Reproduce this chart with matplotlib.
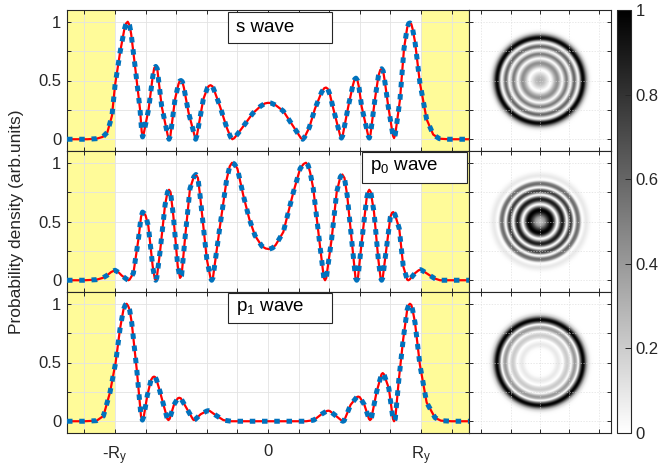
import numpy as np
import matplotlib
matplotlib.use("Agg")
import matplotlib.pyplot as plt
from matplotlib.patches import Rectangle

plt.rcParams['font.family'] = ['Liberation Sans', 'DejaVu Sans']
plt.rcParams['mathtext.fontset'] = 'custom'
plt.rcParams['mathtext.rm'] = 'Liberation Sans'
plt.rcParams['mathtext.it'] = 'Liberation Sans:italic'

# ---------------- data (x in units of R_y) ----------------
s_x = [-1.314, -1.25, -1.18, -1.12, -1.08, -1.05, -1.02, -1.00, -0.967, -0.94, -0.928, -0.917, -0.905,
       -0.895, -0.87, -0.837, -0.826, -0.82, -0.812, -0.78, -0.755, -0.744, -0.734, -0.724, -0.715,
       -0.695, -0.655, -0.647, -0.638, -0.608, -0.585, -0.577, -0.569, -0.56, -0.55, -0.52, -0.48,
       -0.473, -0.465, -0.423, -0.395, -0.385, -0.375, -0.363, -0.35, -0.314, -0.27, -0.245, -0.233,
       -0.22, -0.19, -0.15, -0.10, -0.05, -0.02, 0.0, 0.02, 0.05, 0.10, 0.15, 0.19, 0.215, 0.227,
       0.24, 0.27, 0.307, 0.35, 0.368, 0.379, 0.39, 0.405, 0.427, 0.472, 0.48, 0.488, 0.525, 0.555,
       0.566, 0.575, 0.585, 0.595, 0.612, 0.655, 0.662, 0.67, 0.699, 0.722, 0.734, 0.743, 0.753,
       0.765, 0.786, 0.817, 0.824, 0.832, 0.863, 0.889, 0.91, 0.92, 0.928, 0.937, 0.945, 0.961,
       0.993, 1.037, 1.08, 1.12, 1.18, 1.25, 1.314]
s_y = [0, 0, 0, 0.005, 0.02, 0.06, 0.2, 0.46, 0.74, 0.93, 0.985, 1.0, 0.97,
       0.90, 0.63, 0.26, 0.07, 0.02, 0.05, 0.26, 0.52, 0.605, 0.62, 0.60, 0.50,
       0.28, 0.03, 0.0, 0.03, 0.34, 0.47, 0.495, 0.50, 0.49, 0.44, 0.23, 0.03,
       0.0, 0.03, 0.34, 0.44, 0.455, 0.46, 0.45, 0.41, 0.28, 0.10, 0.02, 0.0,
       0.01, 0.06, 0.13, 0.22, 0.28, 0.305, 0.31, 0.308, 0.29, 0.24, 0.14, 0.06, 0.01, 0.0,
       0.02, 0.10, 0.26, 0.40, 0.435, 0.44, 0.43, 0.38, 0.26, 0.03, 0.01, 0.03, 0.28, 0.46,
       0.51, 0.52, 0.50, 0.44, 0.28, 0.03, 0.01, 0.04, 0.34, 0.54, 0.59, 0.60, 0.58,
       0.48, 0.28, 0.03, 0.01, 0.04, 0.34, 0.77, 0.95, 0.985, 0.99, 0.98, 0.94, 0.83,
       0.48, 0.17, 0.04, 0.005, 0, 0, 0]

p0_x = [-1.314, -1.2, -1.12, -1.08, -1.054, -1.025, -1.0, -0.975, -0.956, -0.92, -0.913, -0.905,
        -0.88, -0.847, -0.83, -0.82, -0.81, -0.80, -0.782, -0.754, -0.741, -0.734, -0.727, -0.706,
        -0.673, -0.657, -0.647, -0.637, -0.619, -0.59, -0.575, -0.565, -0.543, -0.51, -0.485,
        -0.471, -0.458, -0.444, -0.40, -0.376, -0.368, -0.36, -0.314, -0.27, -0.25, -0.235, -0.22,
        -0.20, -0.161, -0.122, -0.085, -0.04, -0.015, 0.008, 0.03, 0.05, 0.10, 0.166, 0.21, 0.233,
        0.248, 0.262, 0.275, 0.296, 0.34, 0.365, 0.373, 0.381, 0.416, 0.449, 0.473, 0.486, 0.5,
        0.518, 0.553, 0.572, 0.58, 0.588, 0.612, 0.645, 0.655, 0.662, 0.672, 0.693, 0.721, 0.736,
        0.743, 0.75, 0.776, 0.80, 0.811, 0.819, 0.83, 0.858, 0.884, 0.91, 0.917, 0.925, 0.961,
        0.985, 0.998, 1.012, 1.03, 1.059, 1.09, 1.124, 1.2, 1.314]
p0_y = [0, 0, 0.005, 0.02, 0.04, 0.07, 0.085, 0.065, 0.04, 0.005, 0.0, 0.005,
        0.06, 0.35, 0.54, 0.58, 0.57, 0.55, 0.46, 0.12, 0.02, 0.0, 0.02, 0.24,
        0.64, 0.75, 0.77, 0.75, 0.55, 0.12, 0.02, 0.04, 0.35, 0.78, 0.88,
        0.90, 0.87, 0.72, 0.18, 0.02, 0.0, 0.02, 0.46, 0.86, 0.97, 1.0, 0.99,
        0.95, 0.72, 0.52, 0.38, 0.29, 0.27, 0.265, 0.275, 0.30, 0.41, 0.75, 0.95, 0.99,
        1.0, 0.98, 0.92, 0.78, 0.29, 0.02, 0.0, 0.02, 0.35, 0.75, 0.88, 0.90, 0.87,
        0.72, 0.265, 0.02, 0.0, 0.02, 0.32, 0.70, 0.755, 0.77, 0.75, 0.58, 0.18, 0.02,
        0.0, 0.02, 0.29, 0.54, 0.575, 0.58, 0.56, 0.44, 0.12, 0.005, 0.0, 0.005, 0.06,
        0.085, 0.09, 0.08, 0.065, 0.04, 0.015, 0.0, 0, 0]

p1_x = [-1.314, -1.2, -1.12, -1.076, -1.033, -0.996, -0.967, -0.945, -0.933, -0.924, -0.914,
        -0.905, -0.891, -0.858, -0.83, -0.821, -0.812, -0.789, -0.765, -0.753, -0.745, -0.737,
        -0.728, -0.71, -0.658, -0.651, -0.643, -0.615, -0.59, -0.58, -0.57, -0.545, -0.49, -0.484,
        -0.476, -0.44, -0.40, -0.39, -0.38, -0.34, -0.292, -0.24, 0.0, 0.25, 0.30, 0.35, 0.384,
        0.394, 0.404, 0.44, 0.482, 0.49, 0.498, 0.54, 0.58, 0.59, 0.60, 0.63, 0.66, 0.667, 0.675,
        0.71, 0.742, 0.75, 0.758, 0.79, 0.817, 0.824, 0.832, 0.855, 0.884, 0.91, 0.92, 0.928,
        0.937, 0.945, 0.961, 0.993, 1.037, 1.092, 1.13, 1.2, 1.314]
p1_y = [0, 0, 0.005, 0.045, 0.245, 0.50, 0.79, 0.95, 0.99, 1.0, 0.98,
        0.95, 0.84, 0.44, 0.04, 0.01, 0.04, 0.22, 0.35, 0.375, 0.38, 0.375,
        0.35, 0.27, 0.02, 0.01, 0.02, 0.14, 0.195, 0.20, 0.195, 0.14, 0.015, 0.01,
        0.015, 0.06, 0.087, 0.09, 0.087, 0.05, 0.01, 0.0, 0.0, 0.0, 0.01, 0.06, 0.087,
        0.09, 0.087, 0.05, 0.005, 0.0, 0.005, 0.14, 0.205, 0.21, 0.205, 0.14, 0.02, 0.01, 0.02,
        0.25, 0.40, 0.41, 0.40, 0.28, 0.02, 0.0, 0.02, 0.35, 0.70, 0.95, 0.99, 1.0,
        0.99, 0.95, 0.84, 0.48, 0.16, 0.03, 0.005, 0, 0]

series = [(s_x, s_y), (p0_x, p0_y), (p1_x, p1_y)]
labels = ['s wave', 'p$_0$ wave', 'p$_1$ wave']
xtick_labels = {-1.0: '-R$_\\mathregular{y}$', 0.0: '0', 1.0: 'R$_\\mathregular{y}$'}
ytick_labels = {0.0: '0', 0.5: '0.5', 1.0: '1'}
cbar_ticks = [0, 0.2, 0.4, 0.6, 0.8, 1.0]
cbar_labels = ['0', '0.2', '0.4', '0.6', '0.8', '1']

# ---------------- layout ----------------
W, H = 665, 474
fig = plt.figure(figsize=(W / 100, H / 100), dpi=100)

def fr(x0, y0, x1, y1):
    return [x0 / W, 1 - y1 / H, (x1 - x0) / W, (y1 - y0) / H]

rows = [(10, 151), (151, 292), (292, 433)]
FR = '#262626'
GRID = '#e3e3e3'
XL = 1.314
img_half = 1.527
img_ticks = np.array([-2, -1, 0, 1, 2]) * 0.63

for i, ((xs, ys), (t, b)) in enumerate(zip(series, rows)):
    ax = fig.add_axes(fr(67, t, 469, b))
    ax.axvspan(-XL, -1.0, color='#FFFB99', zorder=0, lw=0)
    ax.axvspan(1.0, XL, color='#FFFB99', zorder=0, lw=0)
    ax.plot(xs, ys, color='#FF0000', lw=1.6, zorder=3)
    ax.plot(xs, ys, color='#0072BD', lw=3.6, linestyle=(0, (1.1, 1.35)),
            dash_capstyle='butt', zorder=4)
    ax.set_xlim(-XL, XL)
    ax.set_ylim(-0.1, 1.1)
    xt = np.round(np.arange(-1.2, 1.21, 0.2), 2)
    ax.set_xticks(xt)
    if i == 2:
        ax.set_xticklabels([xtick_labels.get(float(v), '') for v in xt])
    else:
        ax.set_xticklabels([])
    yt = [0, 0.25, 0.5, 0.75, 1.0]
    ax.set_yticks(yt)
    ax.set_yticklabels([ytick_labels.get(float(v), '') for v in yt])
    ax.tick_params(direction='in', length=3, width=0.7, colors=FR, labelsize=12,
                   top=True, right=True, labelcolor='#262626', pad=4)
    ax.tick_params(axis='x', pad=8)
    ax.grid(True, color=GRID, lw=0.6)
    ax.set_axisbelow(True)
    for sp in ax.spines.values():
        sp.set_color(FR)
        sp.set_linewidth(0.8)

    # image panel
    iax = fig.add_axes(fr(469, t, 611, b))
    g = np.linspace(-img_half, img_half, 400)
    X, Y = np.meshgrid(g, g)
    R = np.sqrt(X ** 2 + Y ** 2)
    xs_a = np.array(xs)
    ys_a = np.array(ys)
    pos = xs_a >= 0
    Z = np.interp(R, xs_a[pos], ys_a[pos], right=0.0)
    im = iax.imshow(Z, cmap='gray_r', vmin=0, vmax=1, origin='lower',
                    extent=[-img_half, img_half, -img_half, img_half],
                    interpolation='bilinear', aspect='auto')
    iax.set_xticks(img_ticks)
    iax.set_yticks(img_ticks)
    iax.set_xticklabels([])
    iax.set_yticklabels([])
    iax.tick_params(direction='in', length=3, width=0.7, colors=FR, top=True, right=True)
    iax.grid(True, color='#d8d8d8', lw=0.5, linestyle=(0, (2, 2)), alpha=0.8)
    iax.set_axisbelow(False)
    for sp in iax.spines.values():
        sp.set_color(FR)
        sp.set_linewidth(0.8)

# colorbar
cax = fig.add_axes(fr(617, 10, 631, 433))
cb = fig.colorbar(im, cax=cax, ticks=cbar_ticks)
cb.ax.set_yticklabels(cbar_labels)
cb.ax.tick_params(direction='in', length=4, width=0.7, colors=FR, labelsize=12,
                  labelcolor='#262626')
cb.outline.set_edgecolor(FR)
cb.outline.set_linewidth(0.8)

# label boxes
boxes = [(228, 12, 332, 43), (362, 152, 467, 183), (228, 293, 332, 323)]
for (x0, y0, x1, y1), lab in zip(boxes, labels):
    fig.add_artist(Rectangle((x0 / W, 1 - y1 / H), (x1 - x0) / W, (y1 - y0) / H,
                             transform=fig.transFigure, facecolor='white',
                             edgecolor=FR, lw=0.8, zorder=10))
    fig.text((x0 + 8) / W, 1 - ((y0 + y1) / 2) / H, lab, fontsize=13.5,
             ha='left', va='center', color='black', zorder=11)

fig.text(17 / W, 1 - 221.5 / H, 'Probability density (arb.units)', rotation=90,
         ha='center', va='center', fontsize=12.5, color='#262626')

fig.savefig('out.png', dpi=100)
